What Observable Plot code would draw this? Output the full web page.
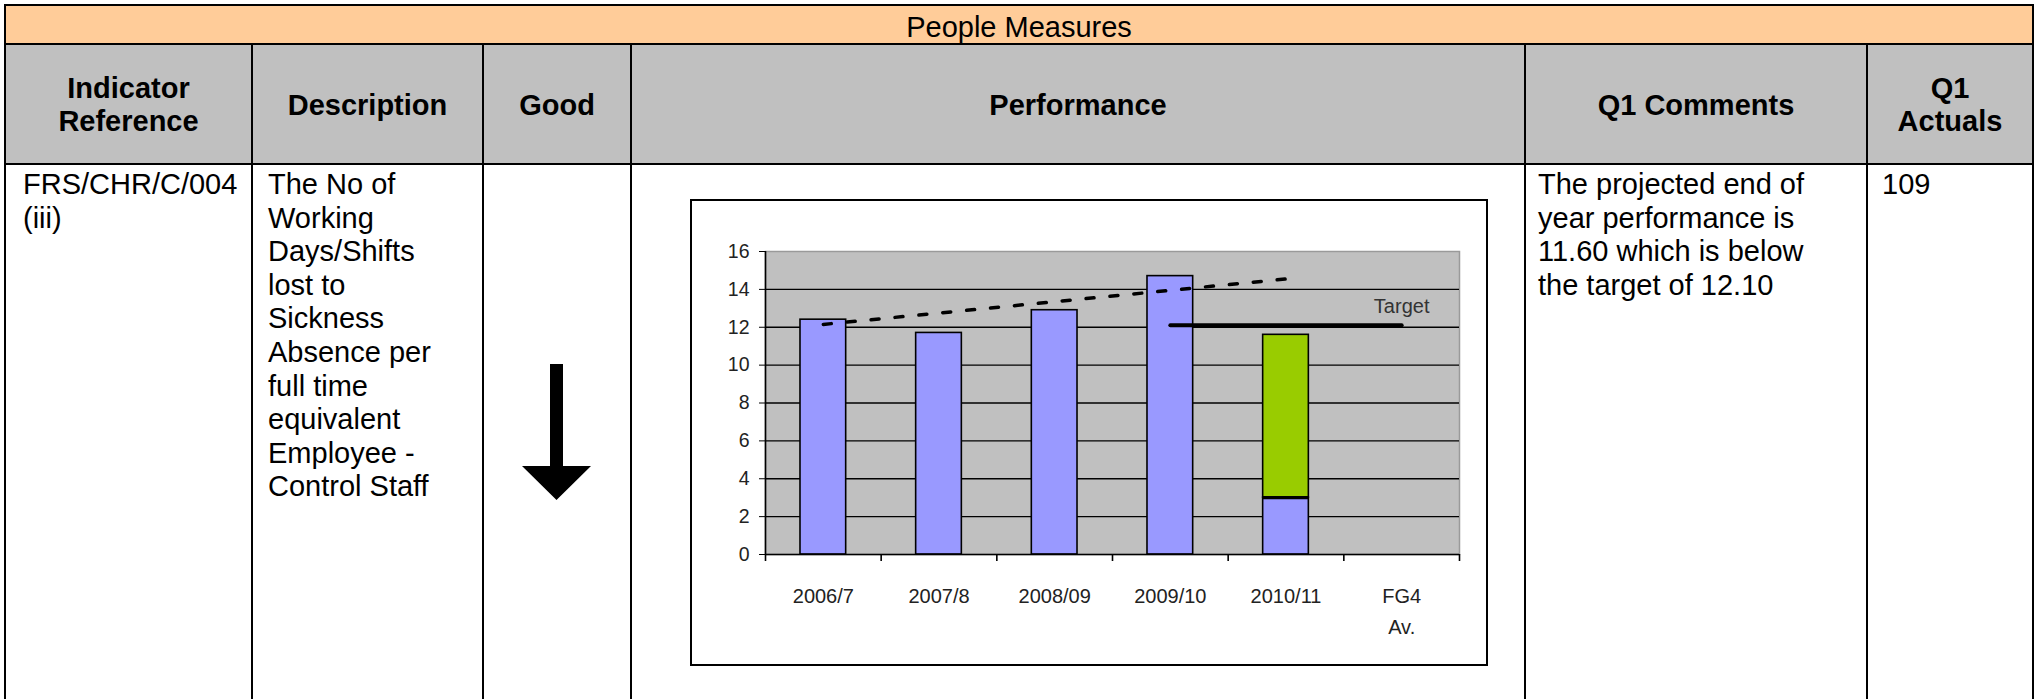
<!DOCTYPE html>
<html><head><meta charset="utf-8">
<script src="https://cdn.jsdelivr.net/npm/d3@7"></script>
<script src="https://cdn.jsdelivr.net/npm/@observablehq/plot@0.6"></script>
<style>
html,body{margin:0;padding:0;background:#fff;}
body{width:2037px;height:699px;position:relative;overflow:hidden;font-family:"Liberation Sans",Arial,Helvetica,sans-serif;color:#000;}
.bg{position:absolute;}
.hl{position:absolute;background:#000;height:2px;}
.vl{position:absolute;background:#000;width:2px;}
.hdr{position:absolute;display:flex;align-items:center;justify-content:center;text-align:center;font-weight:bold;font-size:29px;line-height:33px;}
.cell{position:absolute;font-size:29px;line-height:33.6px;white-space:nowrap;}
#chartbox{position:absolute;left:690px;top:199px;width:794px;height:463px;border:2px solid #000;background:#fff;}
#chartbox svg{display:block;overflow:visible;}
</style></head><body>

<div class="bg" style="left:5px;top:5px;width:2028px;height:40px;background:#FFCC99"></div>
<div class="bg" style="left:5px;top:45px;width:2028px;height:119px;background:#C0C0C0"></div>

<div class="hdr" style="left:6px;top:9px;width:2026px;height:37px;font-weight:normal">People Measures</div>
<div class="hdr" style="left:6px;top:46px;width:245px;height:118px">Indicator<br>Reference</div>
<div class="hdr" style="left:253px;top:46px;width:229px;height:118px">Description</div>
<div class="hdr" style="left:484px;top:46px;width:146px;height:118px">Good</div>
<div class="hdr" style="left:632px;top:46px;width:892px;height:118px">Performance</div>
<div class="hdr" style="left:1526px;top:46px;width:340px;height:118px">Q1 Comments</div>
<div class="hdr" style="left:1868px;top:46px;width:164px;height:118px">Q1<br>Actuals</div>

<div class="cell" style="left:23px;top:168px">FRS/CHR/C/004<br>(iii)</div>
<div class="cell" style="left:268px;top:168px">The No of<br>Working<br>Days/Shifts<br>lost to<br>Sickness<br>Absence per<br>full time<br>equivalent<br>Employee -<br>Control Staff</div>
<div class="cell" style="left:1538px;top:168px">The projected end of<br>year performance is<br>11.60 which is below<br>the target of 12.10</div>
<div class="cell" style="left:1882px;top:168px">109</div>

<svg style="position:absolute;left:0;top:0" width="2037" height="699">
  <polygon points="550,364 563,364 563,466 591,466 556.5,500 522,466 550,466" fill="#000"/>
</svg>

<div class="hl" style="left:4px;top:4px;width:2030px"></div>
<div class="hl" style="left:4px;top:43px;width:2030px"></div>
<div class="hl" style="left:4px;top:163px;width:2030px"></div>
<div class="vl" style="left:4px;top:4px;height:695px"></div>
<div class="vl" style="left:2032px;top:4px;height:695px"></div>
<div class="vl" style="left:251px;top:43px;height:656px"></div>
<div class="vl" style="left:482px;top:43px;height:656px"></div>
<div class="vl" style="left:630px;top:43px;height:656px"></div>
<div class="vl" style="left:1524px;top:43px;height:656px"></div>
<div class="vl" style="left:1866px;top:43px;height:656px"></div>

<div id="chartbox"></div>

<script>
// ---- data ----
const categories = ["2006/7", "2007/8", "2008/09", "2009/10", "2010/11", "FG4\nAv."];
const actualValues = [12.4, 11.7, 12.9, 14.7, 3.0, null];      // blue bars
const projectedValues = [null, null, null, null, 8.6, null];  // green (projected) part
const targetCategories = ["2009/10", "2010/11", "FG4\nAv."];
const targetValue = 12.1;
const trendCategories = ["2006/7", "2010/11"];
const trendValues = [12.15, 14.55];
const yTicks = [0, 2, 4, 6, 8, 10, 12, 14, 16];

// ---- derived tables ----
const idx = c => categories.indexOf(c);
const BAR = 0.395; // bar width as share of category slot
const bars = [];
const splits = [];
categories.forEach((c, i) => {
  const a = actualValues[i], p = projectedValues[i];
  if (a != null) bars.push({cat: c, y1: 0, y2: a, fill: "#9999FF"});
  if (p != null) {
    bars.push({cat: c, y1: a || 0, y2: (a || 0) + p, fill: "#99CC00"});
    splits.push({cat: c, v: a || 0});
  }
});
const trend = trendCategories.map((c, i) => ({cat: c, v: trendValues[i]}));
const target = targetCategories.map(c => ({cat: c, v: targetValue}));
const center = d => idx(d.cat) + 0.5;

const chart = Plot.plot({
  width: 794,
  height: 463,
  marginLeft: 73,
  marginRight: 27,
  marginTop: 50,
  marginBottom: 110,
  style: {fontFamily: "'Liberation Sans', Arial, sans-serif", fontSize: "20px", color: "#000", background: "transparent"},
  x: {type: "linear", domain: [0, categories.length], axis: null},
  y: {domain: [0, 16], axis: null},
  marks: [
    Plot.frame({fill: "#C0C0C0", stroke: "#9a9a9a", strokeWidth: 1.5}),
    Plot.ruleY(yTicks.filter(v => v > 0 && v < 16), {stroke: "#000", strokeWidth: 1.3}),
    Plot.rect(bars, {
      x1: d => center(d) - BAR / 2,
      x2: d => center(d) + BAR / 2,
      y1: "y1", y2: "y2", fill: "fill", stroke: "#000", strokeWidth: 1.6
    }),
    Plot.ruleY(splits, {
      x1: d => center(d) - BAR / 2,
      x2: d => center(d) + BAR / 2,
      y: "v", stroke: "#000", strokeWidth: 3.2
    }),
    Plot.axisY({ticks: yTicks, tickSize: 6, tickPadding: 10, fontSize: 19.5, fill: "#222", stroke: "#000"}),
    Plot.ruleX([0], {y1: 0, y2: 16, stroke: "#000", strokeWidth: 1.6}),
    Plot.ruleY([0], {stroke: "#000", strokeWidth: 1.6}),
    Plot.axisX({ticks: d3.range(categories.length + 1), tickSize: 7, tickFormat: () => "", stroke: "#000", strokeWidth: 1.6}),
    Plot.axisX({
      ticks: categories.map((c, i) => i + 0.5), tickSize: 0, tickPadding: 26,
      tickFormat: d => categories[Math.floor(d)], lineHeight: 1.55, fontSize: 20, fill: "#222"
    }),
    Plot.line(trend, {x: center, y: "v", stroke: "#000", strokeWidth: 3.5, strokeDasharray: "8,16"}),
    Plot.line(target, {x: center, y: "v", stroke: "#000", strokeWidth: 4}),
    Plot.text(["Target"], {x: idx("FG4\nAv.") + 0.5, y: targetValue, dy: -19, text: d => d, fontSize: 20, fill: "#333"})
  ]
});
document.getElementById("chartbox").appendChild(chart);
</script>
</body></html>
